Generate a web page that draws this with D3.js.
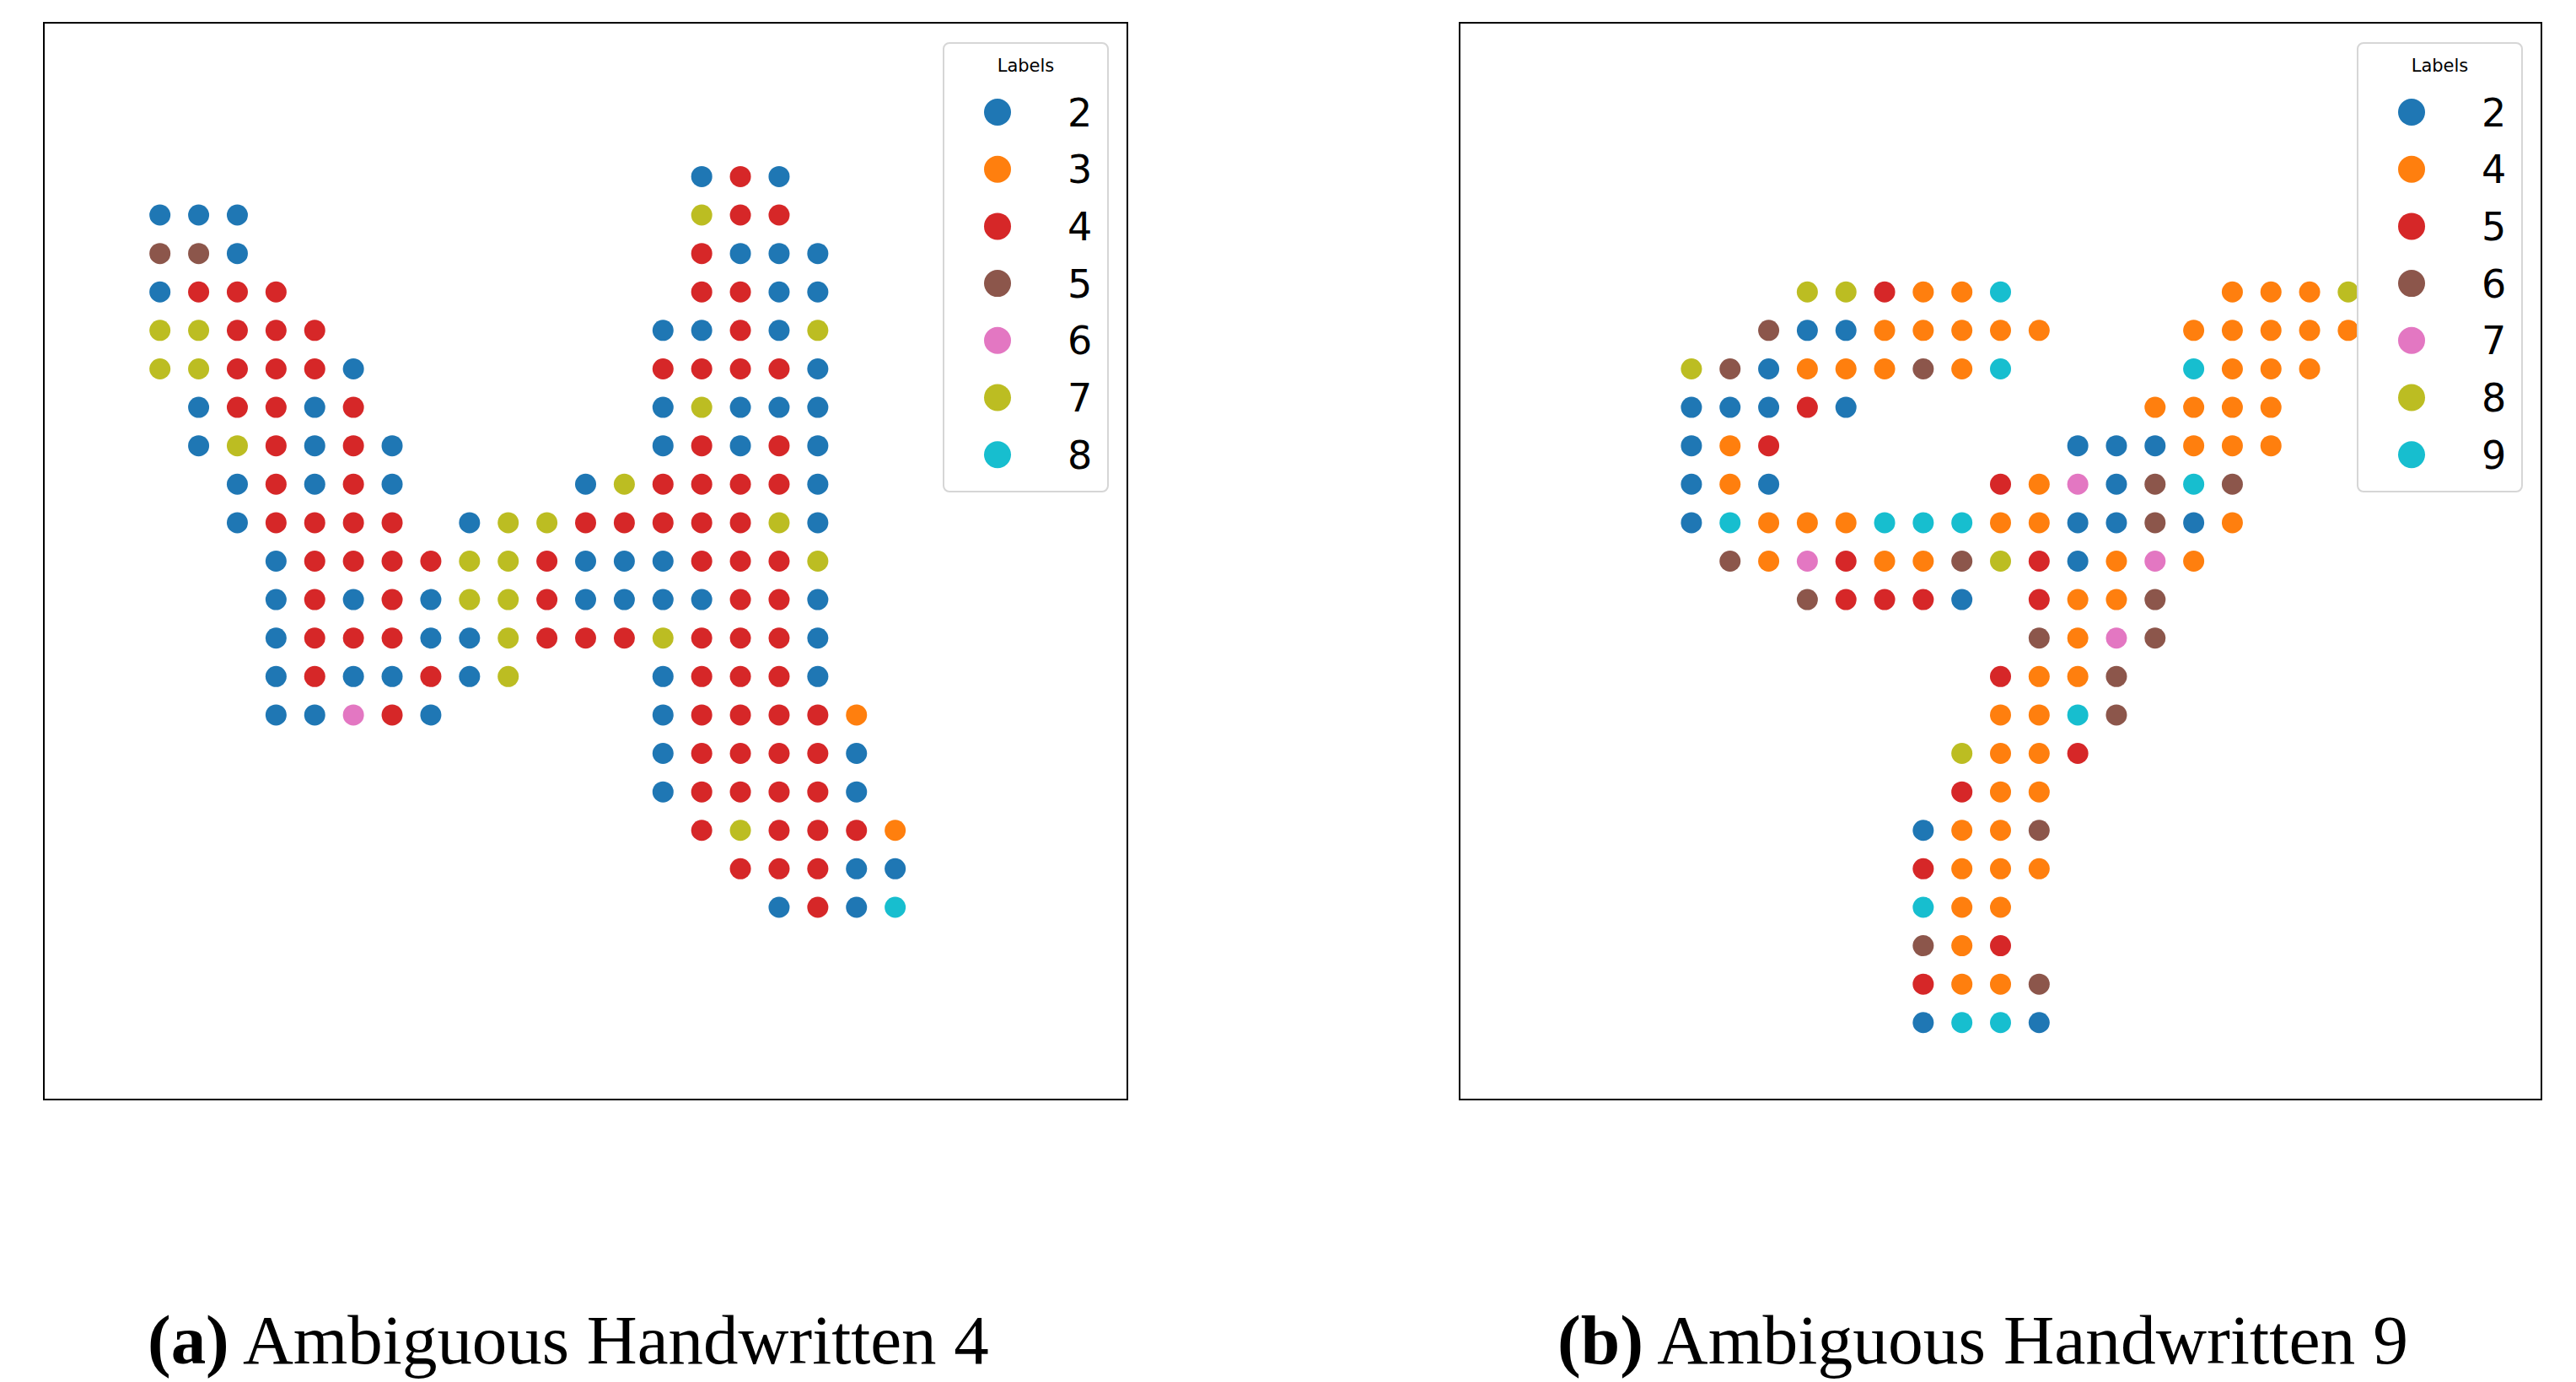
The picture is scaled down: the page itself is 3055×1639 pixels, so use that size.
<!DOCTYPE html>
<html>
<head>
<meta charset="utf-8">
<script src="https://cdn.jsdelivr.net/npm/d3@7"></script>
<style>
  body { margin: 0; background: #fff; }
  svg { display: block; }
  .legend-title { font-family: "DejaVu Sans", sans-serif; font-size: 21px; }
  .legend-label { font-family: "DejaVu Sans", sans-serif; font-size: 46px; }
  .caption { font-family: "Liberation Serif", serif; }
</style>
</head>
<body>
<div class="figure"></div>
<script>
"use strict";

// cells: [row, first column, labels of consecutive columns]
var cellsA = [
  [4, 17, "242"],
  [5, 3, "222"], [5, 17, "744"],
  [6, 3, "552"], [6, 17, "4222"],
  [7, 3, "2444"], [7, 17, "4422"],
  [8, 3, "77444"], [8, 16, "22427"],
  [9, 3, "774442"], [9, 16, "44442"],
  [10, 4, "24424"], [10, 16, "27222"],
  [11, 4, "274242"], [11, 16, "24242"],
  [12, 5, "24242"], [12, 14, "2744442"],
  [13, 5, "24444"], [13, 11, "2774444472"],
  [14, 6, "244447742224447"],
  [15, 6, "242427742222442"],
  [16, 6, "244422744474442"],
  [17, 6, "2422427"], [17, 16, "24442"],
  [18, 6, "22642"], [18, 16, "244443"],
  [19, 16, "244442"],
  [20, 16, "244442"],
  [21, 17, "474443"],
  [22, 18, "44422"],
  [23, 19, "2428"]
];

var cellsB = [
  [7, 9, "885449"], [7, 20, "4448"],
  [8, 8, "62244444"], [8, 19, "44444"],
  [9, 6, "862444649"], [9, 19, "9444"],
  [10, 6, "22252"], [10, 18, "4444"],
  [11, 6, "245"], [11, 16, "222444"],
  [12, 6, "242"], [12, 14, "5472696"],
  [13, 6, "294449994422624"],
  [14, 7, "6475446852474"],
  [15, 9, "65552"], [15, 15, "5446"],
  [16, 15, "6476"],
  [17, 14, "5446"],
  [18, 14, "4496"],
  [19, 13, "8445"],
  [20, 13, "544"],
  [21, 12, "2446"],
  [22, 12, "5444"],
  [23, 12, "944"],
  [24, 12, "645"],
  [25, 12, "5446"],
  [26, 12, "2992"]
];

var labelsA = ["2", "3", "4", "5", "6", "7", "8"];
var labelsB = ["2", "4", "5", "6", "7", "8", "9"];
var palette = ["#1f77b4", "#ff7f0e", "#d62728", "#8c564b", "#e377c2", "#bcbd22", "#17becf"];

var captionA = ["(a)", " Ambiguous Handwritten 4"];
var captionB = ["(b)", " Ambiguous Handwritten 9"];

var width = 3055, height = 1639;

var svg = d3.select(".figure").append("svg")
    .attr("width", width)
    .attr("height", height);

function toPoints(cells) {
  var pts = [];
  cells.forEach(function(c) {
    c[2].split("").forEach(function(lab, i) {
      pts.push({ row: c[0], col: c[1] + i, label: lab });
    });
  });
  return pts;
}

function panel(opts) {
  var w = opts.right - opts.left, h = opts.bottom - opts.top;
  var x = d3.scaleLinear().domain([0, 28]).range([0, w]);
  var y = d3.scaleLinear().domain([0, 28]).range([0, h]);
  var color = d3.scaleOrdinal().domain(opts.labels).range(palette);

  var g = svg.append("g")
      .attr("transform", "translate(" + opts.left + "," + opts.top + ")");

  g.append("g").attr("class", "dots")
    .selectAll("circle")
    .data(toPoints(opts.cells)).enter()
    .append("circle")
    .attr("cx", function(d) { return x(d.col); })
    .attr("cy", function(d) { return y(d.row); })
    .attr("r", 12.5)
    .style("fill", function(d) { return color(d.label); });

  //legend
  var lw = 195, lh = 532;
  var legend = g.append("g")
      .attr("transform", "translate(" + (w - 23 - lw) + ",24)");
  legend.append("rect")
    .attr("width", lw).attr("height", lh)
    .attr("rx", 7)
    .style("fill", "#fff")
    .style("stroke", "#d6d6d6")
    .style("stroke-width", 2);
  legend.append("text").attr("class", "legend-title")
    .attr("x", lw / 2).attr("y", 34)
    .style("text-anchor", "middle")
    .text("Labels");
  var items = legend.selectAll(".item")
    .data(opts.labels).enter()
    .append("g").attr("class", "item")
    .attr("transform", function(d, i) { return "translate(0," + (82 + i * 67.7) + ")"; });
  items.append("circle")
    .attr("cx", 64).attr("r", 16)
    .style("fill", function(d) { return color(d); });
  items.append("text").attr("class", "legend-label")
    .attr("x", 147).attr("dy", "0.36em")
    .text(function(d) { return d; });

  // frame
  g.append("rect")
    .attr("width", w).attr("height", h)
    .style("fill", "none")
    .style("stroke", "#000")
    .style("stroke-width", 2);

  // caption, sized to the measured width
  var cap = svg.append("text").attr("class", "caption")
      .attr("x", opts.capX).attr("y", 1617)
      .style("font-size", "80px");
  cap.append("tspan").style("font-weight", "bold").text(opts.caption[0]);
  cap.append("tspan").text(opts.caption[1]);
  var len = cap.node().getComputedTextLength();
  cap.style("font-size", (80 * opts.capW / len) + "px");
}

panel({ left: 52, right: 1337, top: 27, bottom: 1304, cells: cellsA, labels: labelsA,
        caption: captionA, capX: 175, capW: 998 });
panel({ left: 1731, right: 3014, top: 27, bottom: 1304, cells: cellsB, labels: labelsB,
        caption: captionB, capX: 1847, capW: 1009 });
</script>
</body>
</html>
